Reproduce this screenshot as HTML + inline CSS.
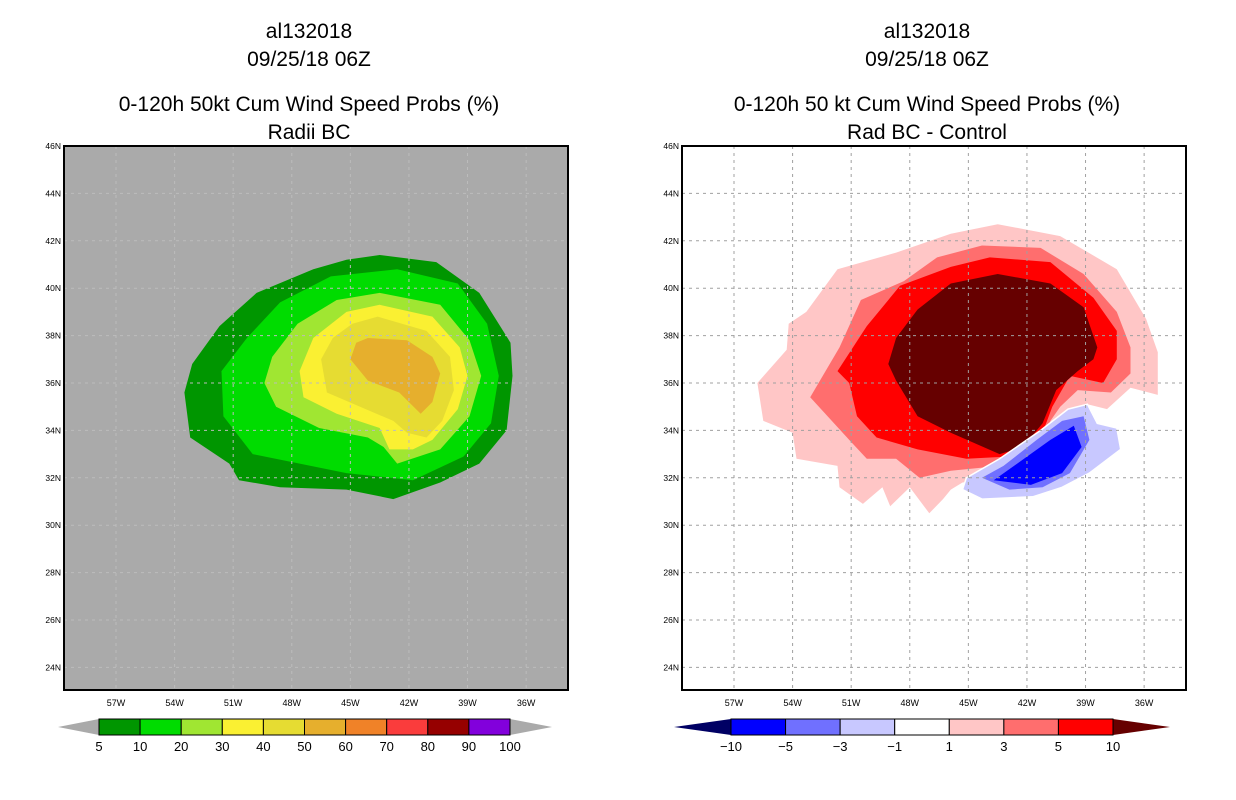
<!DOCTYPE html>
<html><head><meta charset="utf-8"><style>
html,body{margin:0;padding:0;background:#fff;}
svg{display:block;font-family:"Liberation Sans",sans-serif;}
</style></head><body>
<svg id="s" width="1236" height="800" viewBox="0 0 1236 800"></svg>
<script>
const latTicks=[46,44,42,40,38,36,34,32,30,28,26,24];
const lonTicks=[57,54,51,48,45,42,39,36];
const leftLevels=["5","10","20","30","40","50","60","70","80","90","100"];
const leftColors=["#009600","#00dc00","#a0e632","#faf032","#e6dc32","#e6af2d","#f08228","#fa3c3c","#960000","#8200dc"];
const rightLevels=["-10","-5","-3","-1","1","3","5","10"];
const rightColors=["#000064","#0000ff","#7070ff","#c8c8ff","#ffffff","#ffc6c6","#ff6e6e","#ff0000","#660000"];
// contour polygons: [lonW, latN]
const lDarkGreen=[[43.5,41.4],[40.6,41.1],[38.4,39.8],[36.8,37.7],[36.7,36.3],[37.0,34.0],[38.4,32.6],[40.4,31.8],[42.8,31.1],[45.2,31.5],[48.6,31.6],[50.7,31.9],[51.2,32.6],[53.2,33.7],[53.5,35.6],[53.1,36.8],[51.7,38.4],[49.8,39.8],[46.9,40.8],[45.2,41.2]];
const lGreen=[[42.6,40.8],[39.5,40.2],[38.0,38.5],[37.4,36.3],[37.8,34.3],[39.2,32.9],[41.8,31.9],[45.2,32.2],[50.0,33.0],[51.5,34.6],[51.6,36.5],[50.3,37.9],[48.6,39.4],[46.0,40.5]];
const lLightGreen=[[43.5,39.8],[40.4,39.3],[38.9,37.8],[38.3,36.3],[38.9,34.6],[40.4,33.2],[42.6,32.6],[43.3,33.3],[44.1,33.7],[46.6,34.1],[48.8,35.0],[49.4,36.0],[49.0,37.1],[47.7,38.5],[45.7,39.5]];
const lYellow=[[43.5,39.3],[40.8,38.8],[39.4,37.5],[39.0,36.3],[39.5,34.9],[40.8,33.6],[41.8,33.2],[43.0,33.2],[43.5,34.1],[45.7,34.7],[47.4,35.4],[47.6,36.5],[46.9,37.9],[45.2,39.0]];
const lYellow2=[[43.6,38.8],[41.1,38.2],[39.9,37.1],[39.7,35.7],[40.3,34.4],[41.1,33.7],[42.1,33.9],[42.8,34.4],[44.5,35.0],[46.2,35.6],[46.5,37.0],[45.9,37.9],[44.9,38.5]];
const lOrange=[[44.1,37.9],[42.1,37.8],[40.8,37.1],[40.4,36.4],[40.8,35.2],[41.4,34.7],[42.5,35.6],[44.1,36.1],[45.0,37.0],[44.7,37.7]];
const rPink=[[43.5,42.7],[40.3,42.2],[37.4,40.8],[35.9,38.7],[35.3,37.3],[35.3,35.5],[36.7,35.8],[37.9,34.9],[38.9,35.1],[40.0,34.6],[42.0,32.8],[44.5,31.9],[45.3,31.8],[45.9,31.5],[46.3,31.1],[47.0,30.5],[48.0,31.6],[49.0,30.8],[49.4,31.6],[50.4,30.9],[51.6,31.6],[51.7,32.5],[53.8,32.8],[54.0,33.9],[55.5,34.4],[55.8,36.0],[54.3,37.4],[54.2,38.5],[53.3,39.0],[51.7,40.8],[48.7,41.5],[45.9,42.3]];
const rSalmon=[[44.3,41.8],[41.3,41.7],[39.1,40.6],[37.4,39.0],[36.7,37.5],[36.7,36.4],[37.7,35.6],[39.4,35.7],[40.3,35.0],[40.8,34.4],[41.2,33.2],[43.4,32.5],[45.9,32.3],[47.5,32.0],[48.7,32.8],[50.2,32.8],[51.1,33.6],[53.1,35.4],[51.6,37.5],[50.5,39.5],[48.3,40.3],[46.6,41.3]];
const rRed=[[43.9,41.3],[40.8,41.1],[38.6,39.6],[37.4,38.2],[37.4,37.0],[38.1,36.0],[39.8,36.3],[40.7,35.0],[41.2,33.9],[42.9,32.9],[45.1,32.8],[47.6,33.2],[49.7,33.7],[50.7,34.6],[51.1,36.0],[51.7,36.5],[50.2,38.4],[48.5,40.1],[45.9,40.9]];
const rDarkRed=[[43.5,40.6],[40.8,40.2],[39.1,39.2],[38.4,37.5],[38.6,37.0],[39.4,36.5],[40.5,35.7],[41.2,34.3],[42.2,33.3],[43.4,33.0],[45.9,33.9],[47.6,34.6],[48.7,36.1],[49.1,36.8],[48.7,37.9],[47.6,39.1],[45.9,40.2]];
const rBlueLight=[[38.9,35.1],[38.4,34.3],[37.4,34.1],[37.2,33.2],[38.8,32.2],[40.2,31.6],[41.7,31.2],[44.3,31.1],[45.3,31.5],[45.1,32.0],[43.4,32.8],[41.3,34.0],[39.9,34.9]];
const rBlueMid=[[39.1,34.6],[38.8,33.6],[39.8,32.2],[41.2,31.6],[42.9,31.5],[44.3,32.0],[43.2,32.5],[41.5,33.6],[40.2,34.4]];
const rBlueDark=[[39.6,34.2],[39.2,33.3],[40.2,32.2],[41.8,31.7],[43.7,31.9],[42.5,32.6],[40.8,33.6]];

const NS="http://www.w3.org/2000/svg";
const svg=document.getElementById('s');
function mk(t,a,p){const e=document.createElementNS(NS,t);for(const k in a)e.setAttribute(k,a[k]);(p||svg).appendChild(e);return e;}
const PW=504,Y0=146,PH=544;
function xScale(off,w){return off+116+(57-w)*19.53;}
function yScale(lat){return Y0+(46-lat)*23.7;}
function polyStr(off,pts){return pts.map(p=>xScale(off,p[0]).toFixed(1)+","+yScale(p[1]).toFixed(1)).join(" ");}

function panel(off,name,bg,layers,gridCol,t3,t4,cx){
  const g=mk('g',{});
  
  
  const lines=["al132018","09/25/18 06Z",t3,t4];const ys=[38,66,111,139];
  lines.forEach((t,i)=>{const e=mk('text',{x:cx,y:ys[i],'text-anchor':'middle','font-size':21,fill:'#000'},g);e.textContent=t;
    });
  const r=mk('rect',{x:off+64,y:Y0,width:PW,height:PH,fill:bg},g);
  
  const clip=mk('clipPath',{id:'c'+name},g);mk('rect',{x:off+64,y:Y0,width:PW,height:PH},clip);
  const cg=mk('g',{'clip-path':'url(#c'+name+')'},g);
  layers.forEach(L=>{const p=mk('polygon',{points:polyStr(off,L[0]),fill:L[1],stroke:L[2]||'none','stroke-width':L[3]||0},cg);
    });
  latTicks.forEach(l=>{const y=yScale(l);
    if(l<46){const e=mk('line',{x1:off+64,x2:off+568,y1:y,y2:y,stroke:gridCol,'stroke-width':1,'stroke-dasharray':'3,4'},cg);
    }
    const t=mk('text',{x:off+61,y:y+3,'text-anchor':'end','font-size':8.5,fill:'#000'},g);t.textContent=l+"N";
    });
  lonTicks.forEach(w=>{const x=xScale(off,w);
    const e=mk('line',{x1:x,x2:x,y1:Y0,y2:Y0+PH,stroke:gridCol,'stroke-width':1,'stroke-dasharray':'3,4'},cg);
    
    const t=mk('text',{x:x,y:706,'text-anchor':'middle','font-size':9,fill:'#000'},g);t.textContent=w+"W";
    });
  const b=mk('rect',{x:off+64,y:Y0,width:PW,height:PH,fill:'none',stroke:'#000','stroke-width':2},g);
  
}
panel(0,'left','#aaaaaa',[[lDarkGreen,leftColors[0],0,0,'5-10'],[lGreen,leftColors[1],0,0,'10-20'],[lLightGreen,leftColors[2],0,0,'20-30'],[lYellow,leftColors[3],0,0,'30-40'],[lYellow2,leftColors[4],0,0,'40-50'],[lOrange,leftColors[5],0,0,'50-60']],'#bcbcbc',"0-120h 50kt Cum Wind Speed Probs (%)","Radii BC",309);
panel(618,'right','#ffffff',[[rPink,rightColors[5],0,0,'1-3'],[rSalmon,rightColors[6],0,0,'3-5'],[rRed,rightColors[7],0,0,'5-10'],[rDarkRed,rightColors[8],0,0,'10-plus'],[rBlueLight,rightColors[3],'#fff',1.5,'minus1-minus3'],[rBlueMid,rightColors[2],0,0,'minus3-minus5'],[rBlueDark,rightColors[1],0,0,'minus5-minus10']],'#a0a0a0',"0-120h 50 kt Cum Wind Speed Probs (%)","Rad BC - Control",927);

function colorbar(name,x0,x1,tipL,tipR,colors,labels){
  const n=colors.length-2;const w=(x1-x0)/n;const yt=719,yb=735,ym=727;
  const g=mk('g',{});
  const a=mk('polygon',{points:`${tipL},${ym} ${x0},${yt} ${x0},${yb}`,fill:colors[0]},g);
  
  const a2=mk('polygon',{points:`${tipR},${ym} ${x1},${yt} ${x1},${yb}`,fill:colors[colors.length-1]},g);
  
  for(let i=0;i<n;i++){const r=mk('rect',{x:x0+i*w,y:yt,width:w,height:yb-yt,fill:colors[i+1],stroke:'#000','stroke-width':1},g);
    }
  labels.forEach((l,i)=>{const t=mk('text',{x:x0+i*w,y:751,'text-anchor':'middle','font-size':13,fill:'#000'},g);t.textContent=l.replace('-','\u2212');
    });
}
colorbar('left',99,510,58,552,["#aaaaaa"].concat(leftColors,["#aaaaaa"]),leftLevels);
colorbar('right',731,1113,674,1170,rightColors,rightLevels);
</script>
</body></html>
